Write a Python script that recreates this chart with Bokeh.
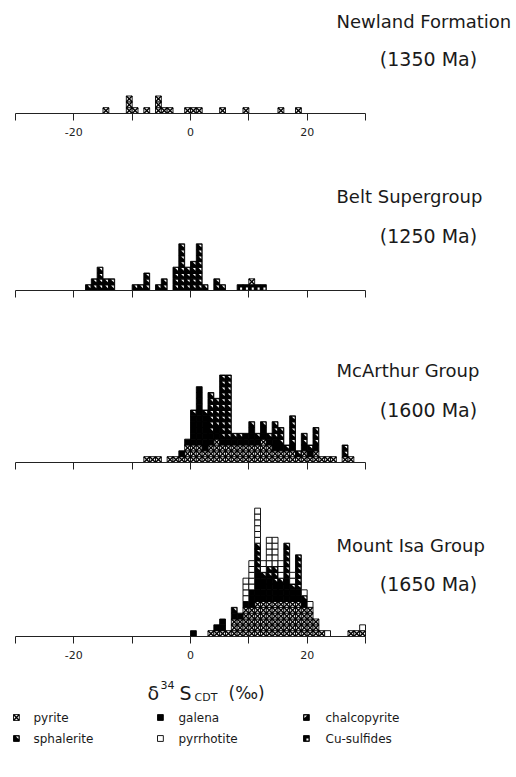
import numpy as np
from bokeh.plotting import figure
from bokeh.layouts import column
from bokeh.models import Range1d, FixedTicker, Label
from bokeh.embed import file_html
from bokeh.resources import INLINE

# ---------------- data ----------------
legend_names = ["pyrite", "galena", "chalcopyrite", "sphalerite", "pyrrhotite", "Cu-sulfides"]
tick_values = [-30, -20, -10, 0, 10, 20, 30]
tick_labels = ["", "-20", "", "0", "", "20", ""]

panel_titles = ["Newland Formation", "Belt Supergroup", "McArthur Group", "Mount Isa Group"]
panel_ages = ["(1350 Ma)", "(1250 Ma)", "(1600 Ma)", "(1650 Ma)"]

# Newland Formation
newland_bins = [-15, -11, -10, -8, -6, -5, -4, -1, 0, 1, 5, 9, 15, 18]
newland_pyrite = [1, 3, 1, 1, 3, 1, 1, 1, 1, 1, 1, 1, 1, 1]

# Belt Supergroup
belt_bins = [-18, -17, -16, -15, -14, -10, -9, -8, -6, -5, -3, -2, -1, 0, 1, 2, 4, 5, 8, 9, 10, 11, 12]
belt_sphalerite = [1, 2, 4, 2, 2, 1, 1, 3, 1, 2, 4, 8, 4, 5, 8, 1, 2, 1, 0, 0, 0, 0, 0]
belt_cusulf = [0, 0, 0, 0, 0, 0, 0, 0, 0, 0, 0, 0, 0, 0, 0, 0, 0, 0, 1, 1, 1, 1, 1]
belt_pyrite = [0, 0, 0, 0, 0, 0, 0, 0, 0, 0, 0, 0, 0, 0, 0, 0, 0, 0, 0, 0, 1, 0, 0]

# McArthur Group
mcarthur_bins = [-8, -7, -6, -4, -3, -2, -1, 0, 1, 2, 3, 4, 5, 6, 7, 8, 9, 10, 11, 12, 13, 14, 15, 16,
                 17, 18, 19, 20, 21, 22, 23, 24, 26, 27]
mcarthur_pyrite = [1, 1, 1, 1, 1, 1, 3, 3, 3, 2, 3, 4, 3, 3, 3, 3, 3, 3, 3, 4, 3, 2, 2, 2,
                   2, 1, 2, 1, 2, 1, 1, 1, 1, 1]
mcarthur_galena = [0, 0, 0, 0, 0, 1, 1, 5, 10, 6, 2, 2, 1, 1, 1, 1, 2, 3, 1, 2, 1, 2, 1, 0,
                   1, 0, 1, 1, 1, 0, 0, 0, 0, 0]
mcarthur_sphalerite = [0, 0, 0, 0, 0, 0, 0, 1, 0, 1, 7, 5, 11, 11, 1, 1, 0, 1, 1, 1, 1, 3, 3, 1,
                       5, 1, 2, 1, 3, 0, 0, 0, 2, 0]

# Mount Isa Group
mountisa_bins = [0, 3, 4, 5, 6, 7, 8, 9, 10, 11, 12, 13, 14, 15, 16, 17, 18, 19, 20, 21, 22, 23, 27, 28, 29]
mountisa_pyrite = [0, 1, 1, 1, 1, 3, 3, 5, 5, 6, 6, 6, 6, 6, 6, 6, 6, 5, 5, 3, 1, 0, 1, 1, 1]
mountisa_galena = [1, 0, 1, 2, 0, 1, 1, 1, 3, 5, 4, 4, 3, 3, 4, 2, 2, 1, 0, 0, 0, 0, 0, 0, 0]
mountisa_sphalerite = [0, 0, 0, 0, 0, 1, 0, 0, 0, 5, 1, 2, 3, 1, 6, 1, 6, 1, 0, 0, 0, 0, 0, 0, 0]
mountisa_pyrrhotite = [0, 0, 0, 0, 0, 0, 0, 4, 5, 6, 2, 5, 5, 3, 0, 2, 0, 1, 1, 0, 0, 1, 0, 0, 1]

# ---------------- layout helpers ----------------
CELL = 350.0 / 60.0          # pixels per permil (and per sample cell)
W = 516
X0 = -30 - 15 / CELL
X1 = X0 + W / CELL
FONT = "DejaVu Sans"


def xd(px):
    return X0 + px / CELL


def draw_cells(p, mineral, lefts, bottoms):
    if len(lefts) == 0:
        return
    l = np.asarray(lefts, float)
    b = np.asarray(bottoms, float)
    r = l + 1
    t = b + 1
    fill = "white" if mineral in ("pyrite", "pyrrhotite") else "black"
    p.quad(left=l, right=r, bottom=b, top=t, fill_color=fill, line_color="black", line_width=0.9)
    if mineral == "pyrite":
        p.segment(x0=np.r_[l, l], y0=np.r_[b, t], x1=np.r_[r, r], y1=np.r_[t, b],
                  line_color="black", line_width=1.4)
    elif mineral == "sphalerite":
        xs = [[a + 0.4, c - 0.15, c - 0.15] for a, c in zip(l, r)]
        ys = [[d - 0.15, d - 0.15, e + 0.4] for e, d in zip(b, t)]
        p.patches(xs, ys, fill_color="white", line_color=None)
    elif mineral == "chalcopyrite":
        xs = [[a + 0.15, c - 0.4, a + 0.15] for a, c in zip(l, r)]
        ys = [[d - 0.15, d - 0.15, e + 0.4] for e, d in zip(b, t)]
        p.patches(xs, ys, fill_color="white", line_color=None)
    elif mineral == "Cu-sulfides":
        p.quad(left=l + 0.5, right=r - 0.15, bottom=b + 0.15, top=b + 0.5,
               fill_color="white", line_color=None)


def stacked(p, bins, series):
    base = np.zeros(len(bins))
    for mineral, counts in series:
        lefts, bottoms = [], []
        for i, (bn, c) in enumerate(zip(bins, counts)):
            for k in range(c):
                lefts.append(bn)
                bottoms.append(base[i] + k)
            base[i] += c
        draw_cells(p, mineral, lefts, bottoms)


def panel(idx, bins, series, frame_h, border_bottom, show_labels, title_dy, age_dy):
    p = figure(width=W, height=frame_h + border_bottom,
               x_range=Range1d(X0, X1), y_range=Range1d(0, frame_h / CELL),
               output_backend="svg", toolbar_location=None, y_axis_location=None,
               min_border_left=0, min_border_right=0, min_border_top=0,
               min_border_bottom=border_bottom)
    p.grid.visible = False
    p.outline_line_color = None
    ax = p.xaxis[0]
    ax.ticker = FixedTicker(ticks=tick_values, minor_ticks=[])
    ax.bounds = (-30, 30)
    ax.major_label_overrides = {v: (lab if show_labels else "") for v, lab in zip(tick_values, tick_labels)}
    ax.major_tick_out = 7
    ax.major_tick_in = 0
    ax.axis_line_color = "#222222"
    ax.major_tick_line_color = "#222222"
    ax.axis_line_width = 1
    ax.major_label_text_font = FONT
    ax.major_label_text_font_size = "11px"
    ax.major_label_text_color = "#222222"
    ax.major_label_standoff = 7
    stacked(p, bins, series)
    p.add_layout(Label(x=xd(336), y=title_dy / CELL, text=panel_titles[idx], text_font=FONT,
                       text_font_size="18px", text_color="#1a1a1a", text_baseline="middle",
                       text_align="left"))
    p.add_layout(Label(x=xd(428), y=age_dy / CELL, text=panel_ages[idx], text_font=FONT,
                       text_font_size="19px", text_color="#1a1a1a", text_baseline="middle",
                       text_align="center"))
    return p


p1 = panel(0, newland_bins, [("pyrite", newland_pyrite)], 113, 47, True, 92, 55)
p2 = panel(1, belt_bins, [("sphalerite", belt_sphalerite), ("Cu-sulfides", belt_cusulf),
                          ("pyrite", belt_pyrite)], 130, 40, False, 94, 55)
p3 = panel(2, mcarthur_bins, [("pyrite", mcarthur_pyrite), ("galena", mcarthur_galena),
                              ("sphalerite", mcarthur_sphalerite)], 132, 38, False, 92, 53)
p4 = panel(3, mountisa_bins, [("pyrite", mountisa_pyrite), ("galena", mountisa_galena),
                              ("sphalerite", mountisa_sphalerite), ("pyrrhotite", mountisa_pyrrhotite)],
           136, 29, True, 91, 53)

# bottom: axis title and legend
TOP5 = 160 + 170 + 170 + 165
H5 = 775 - TOP5
p5 = figure(width=W, height=H5, x_range=Range1d(X0, X1), y_range=Range1d(0, H5 / CELL),
            output_backend="svg", toolbar_location=None, x_axis_location=None, y_axis_location=None,
            min_border_left=0, min_border_right=0, min_border_top=0, min_border_bottom=0)
p5.grid.visible = False
p5.outline_line_color = None


def yd5(py):
    return (TOP5 + H5 - py) / CELL


for txt, px, py, size in [("δ", 147, 692, "19px"), ("34", 160, 684, "11px"), ("S", 179, 692, "19px"),
                          ("CDT", 194, 697, "11px"), ("(‰)", 228, 692, "17px")]:
    p5.add_layout(Label(x=xd(px), y=yd5(py), text=txt, text_font=FONT, text_font_size=size,
                        text_color="#1a1a1a", text_baseline="middle", text_align="left"))

col_glyph_px = [13, 157, 303]
col_text_px = [33, 178, 325]
row_px = [717, 738]
for i, name in enumerate(legend_names):
    r, c = divmod(i, 3)
    gx = xd(col_glyph_px[c])
    gy = yd5(row_px[r]) - 0.5
    draw_cells(p5, name, [gx], [gy])
    p5.add_layout(Label(x=xd(col_text_px[c]), y=yd5(row_px[r]), text=name, text_font=FONT,
                        text_font_size="12px", text_color="#1a1a1a", text_baseline="middle",
                        text_align="left"))

layout = column(p1, p2, p3, p4, p5, spacing=0)
open("out.html", "w").write(file_html(layout, INLINE))
